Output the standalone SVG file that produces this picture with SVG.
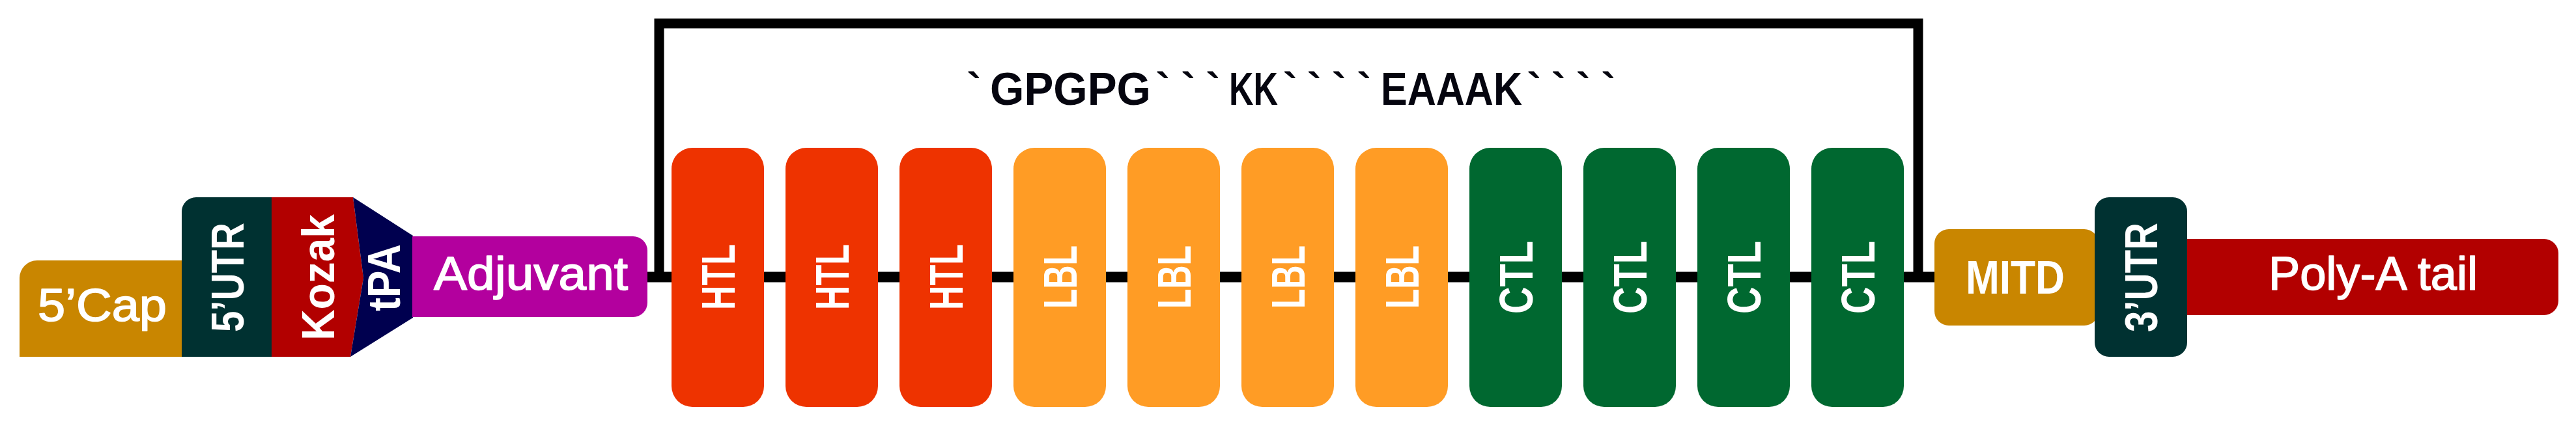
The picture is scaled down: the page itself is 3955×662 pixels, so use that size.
<svg xmlns="http://www.w3.org/2000/svg" width="3955" height="662" viewBox="0 0 3955 662">
<style>
.lbl{fill:#fff;font-family:"Liberation Sans",Arial,sans-serif;}
.b{font-weight:bold;}
.r{font-weight:normal;stroke:#fff;stroke-width:1.6;stroke-linejoin:round;}
.link{fill:#05050f;font-family:"Liberation Sans",Arial,sans-serif;font-weight:bold;font-size:71px;}
.tick{font-size:66px;}
.htl{fill:#ee3300;}
.lbl-box{fill:#ff9c25;}
.ctl{fill:#006830;}
</style>
<rect width="3955" height="662" fill="#fff"/>
<g id="connectors">
  <line x1="994" y1="425.5" x2="2971" y2="425.5" stroke="#000" stroke-width="16"/>
  <path d="M1012,425 V36 H2945 V425" fill="none" stroke="#000" stroke-width="15"/>
</g>
<g id="linker-label">
  <text class="link"><tspan class="tick" x="1484.5" y="159">`</tspan><tspan x="1520" y="161" textLength="247" lengthAdjust="spacingAndGlyphs">GPGPG</tspan><tspan class="tick" x="1774.5 1813.5 1851.5" y="159">```</tspan><tspan x="1887" y="161" textLength="75" lengthAdjust="spacingAndGlyphs">KK</tspan><tspan class="tick" x="1970 2007 2045 2083.5" y="159">````</tspan><tspan x="2120" y="161" textLength="217" lengthAdjust="spacingAndGlyphs">EAAAK</tspan><tspan class="tick" x="2344.5 2382 2420 2458.5" y="159">````</tspan></text>
</g>
<g id="cap5">
  <path d="M30,548 V427 A27,27 0 0 1 57,400 H280 V548 Z" fill="#c98600"/>
  <text class="lbl r" x="58" y="493" font-size="70" textLength="198" lengthAdjust="spacingAndGlyphs">5’Cap</text>
</g>
<g id="utr5">
  <path d="M279,548 V325 A22,22 0 0 1 301,303 H418 V548 Z" fill="#003131"/>
  <text class="lbl b" transform="translate(349,426) rotate(-90)" x="0" y="25" font-size="70" text-anchor="middle" textLength="168" lengthAdjust="spacingAndGlyphs">5’UTR</text>
</g>
<g id="kozak">
  <path d="M417,303 H542 L558,427 L538,548 H417 Z" fill="#b20000"/>
  <text class="lbl b" transform="translate(487.5,426) rotate(-90)" x="0" y="25.5" font-size="70" text-anchor="middle" textLength="194" lengthAdjust="spacingAndGlyphs">Kozak</text>
</g>
<g id="tpa">
  <path d="M542,303 L634,362 V488 L538,548 L558,427 Z" fill="#00004f"/>
  <text class="lbl b" transform="translate(588,426.5) rotate(-90)" x="0" y="26" font-size="70" text-anchor="middle" textLength="103" lengthAdjust="spacingAndGlyphs">tPA</text>
</g>
<g id="adjuvant">
  <path d="M633,363 H972 A22,22 0 0 1 994,385 V465 A22,22 0 0 1 972,487 H633 Z" fill="#b3009e"/>
  <text class="lbl r" x="666" y="445" font-size="72" textLength="298" lengthAdjust="spacingAndGlyphs">Adjuvant</text>
</g>
<g id="htl1"><rect class="htl" x="1031" y="227" width="142" height="398" rx="32"/><text class="lbl b" transform="translate(1102,425.5) rotate(-90)" y="26" font-size="72" text-anchor="middle" textLength="101" lengthAdjust="spacingAndGlyphs">HTL</text></g>
<g id="htl2"><rect class="htl" x="1206" y="227" width="142" height="398" rx="32"/><text class="lbl b" transform="translate(1277,425.5) rotate(-90)" y="26" font-size="72" text-anchor="middle" textLength="101" lengthAdjust="spacingAndGlyphs">HTL</text></g>
<g id="htl3"><rect class="htl" x="1381" y="227" width="142" height="398" rx="32"/><text class="lbl b" transform="translate(1452,425.5) rotate(-90)" y="26" font-size="72" text-anchor="middle" textLength="101" lengthAdjust="spacingAndGlyphs">HTL</text></g>
<g id="lbl1"><rect class="lbl-box" x="1556" y="227" width="142" height="398" rx="32"/><text class="lbl b" transform="translate(1627,425.5) rotate(-90)" y="26" font-size="72" text-anchor="middle" textLength="97" lengthAdjust="spacingAndGlyphs">LBL</text></g>
<g id="lbl2"><rect class="lbl-box" x="1731" y="227" width="142" height="398" rx="32"/><text class="lbl b" transform="translate(1802,425.5) rotate(-90)" y="26" font-size="72" text-anchor="middle" textLength="97" lengthAdjust="spacingAndGlyphs">LBL</text></g>
<g id="lbl3"><rect class="lbl-box" x="1906" y="227" width="142" height="398" rx="32"/><text class="lbl b" transform="translate(1977,425.5) rotate(-90)" y="26" font-size="72" text-anchor="middle" textLength="97" lengthAdjust="spacingAndGlyphs">LBL</text></g>
<g id="lbl4"><rect class="lbl-box" x="2081" y="227" width="142" height="398" rx="32"/><text class="lbl b" transform="translate(2152,425.5) rotate(-90)" y="26" font-size="72" text-anchor="middle" textLength="97" lengthAdjust="spacingAndGlyphs">LBL</text></g>
<g id="ctl1"><rect class="ctl" x="2256" y="227" width="142" height="398" rx="32"/><text class="lbl b" transform="translate(2327,426) rotate(-90)" y="26" font-size="72" text-anchor="middle" textLength="112" lengthAdjust="spacingAndGlyphs">CTL</text></g>
<g id="ctl2"><rect class="ctl" x="2431" y="227" width="142" height="398" rx="32"/><text class="lbl b" transform="translate(2502,426) rotate(-90)" y="26" font-size="72" text-anchor="middle" textLength="112" lengthAdjust="spacingAndGlyphs">CTL</text></g>
<g id="ctl3"><rect class="ctl" x="2606" y="227" width="142" height="398" rx="32"/><text class="lbl b" transform="translate(2677,426) rotate(-90)" y="26" font-size="72" text-anchor="middle" textLength="112" lengthAdjust="spacingAndGlyphs">CTL</text></g>
<g id="ctl4"><rect class="ctl" x="2781" y="227" width="142" height="398" rx="32"/><text class="lbl b" transform="translate(2852,426) rotate(-90)" y="26" font-size="72" text-anchor="middle" textLength="112" lengthAdjust="spacingAndGlyphs">CTL</text></g>
<g id="mitd">
  <rect x="2970" y="352" width="252" height="148" rx="22" fill="#c98600"/>
  <text class="lbl b" x="3018" y="451" font-size="72" textLength="152" lengthAdjust="spacingAndGlyphs">MITD</text>
</g>
<g id="polya">
  <path d="M3340,367 H3906 A22,22 0 0 1 3928,389 V462 A22,22 0 0 1 3906,484 H3340 Z" fill="#b20000"/>
  <text class="lbl r" x="3483" y="445" font-size="72" textLength="321" lengthAdjust="spacingAndGlyphs">Poly-A tail</text>
</g>
<g id="utr3">
  <rect x="3216" y="303" width="142" height="245" rx="22" fill="#003131"/>
  <text class="lbl b" transform="translate(3287,426) rotate(-90)" y="25" font-size="70" text-anchor="middle" textLength="168" lengthAdjust="spacingAndGlyphs">3’UTR</text>
</g>
</svg>
